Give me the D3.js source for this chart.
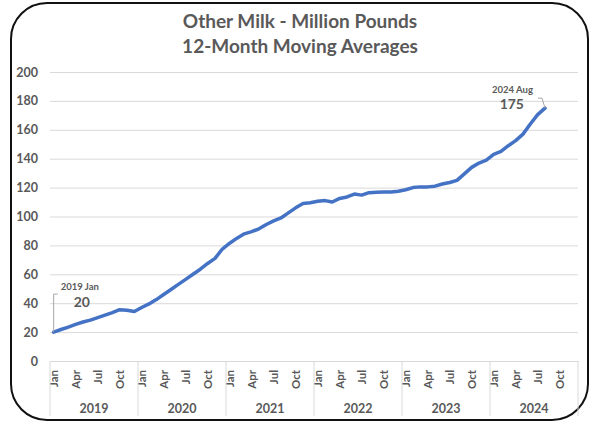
<!DOCTYPE html>
<html lang="en">
<head>
<meta charset="utf-8">
<script src="https://d3js.org/d3.v7.min.js"></script>
<style>
  body { margin: 0; background: #fff; }
  svg text { font-family: Lato, "Open Sans", sans-serif; font-weight: 700; fill: #595959; }
</style>
</head>
<body>
<svg id="chart" width="600" height="426"></svg>
<script>
// data (million pounds, 12-month moving average)
const years = ["2019", "2020", "2021", "2022", "2023", "2024"];
const monthNames = ["Jan","Feb","Mar","Apr","May","Jun","Jul","Aug","Sep","Oct","Nov","Dec"];
const values = [
  20, 21.8, 23.5, 25.3, 27, 28.3, 30, 31.8, 33.5, 35.5, 35.1, 34.2,      // 2019
  37, 39.5, 42.5, 46, 49.5, 53, 56.5, 60, 63.5, 67.5, 71, 77.5,         // 2020
  81.5, 85, 88, 89.5, 91.5, 94.5, 97, 99, 102.5, 106, 109, 109.5,       // 2021
  110.5, 111, 110, 112.5, 113.5, 115.5, 114.8, 116.5, 116.8, 117, 117, 117.5, // 2022
  118.5, 120, 120.5, 120.5, 121, 122.5, 123.5, 125, 129.5, 134, 137, 139,     // 2023
  143, 145, 149, 152.5, 157, 164, 170.5, 175                             // 2024 (to Aug)
];
const yTicks = [0, 20, 40, 60, 80, 100, 120, 140, 160, 180, 200];
const monthTickLabels = ["Jan", "Apr", "Jul", "Oct"];

const svg = d3.select("#chart");
const plotL = 50, plotR = 578, plotT = 72, plotB = 361;

// every month slot on the axis
const slots = [];
years.forEach(yr => monthNames.forEach(m => slots.push(yr + "-" + m)));
const points = values.map((v, i) => ({ key: slots[i], value: v }));

const x = d3.scaleBand().domain(slots).range([plotL, plotR]);
const y = d3.scaleLinear().domain([0, 200]).range([plotB, plotT]);
const cx = k => x(k) + x.bandwidth() / 2;

// frame
svg.append("rect")
  .attr("x", 11).attr("y", 3).attr("width", 577).attr("height", 417)
  .attr("rx", 36).attr("fill", "#fff")
  .attr("stroke", "#111").attr("stroke-width", 2);

// title
svg.append("text").attr("x", 300).attr("y", 28).attr("text-anchor", "middle")
  .style("font-size", "19px").text("Other Milk - Million Pounds");
svg.append("text").attr("x", 300).attr("y", 53).attr("text-anchor", "middle")
  .style("font-size", "19px").text("12-Month Moving Averages");

// gridlines + y labels
const yAxis = d3.axisLeft(y).tickValues(yTicks).tickSize(-(plotR - plotL)).tickPadding(12);
const yg = svg.append("g").attr("transform", `translate(${plotL},0)`).call(yAxis);
yg.select(".domain").remove();
yg.selectAll(".tick line").attr("stroke", "#d9d9d9").attr("stroke-width", 1);
yg.selectAll(".tick text").style("font-size", "12.5px").attr("fill", "#595959");

// category axis (months)
const xAxis = d3.axisBottom(x)
  .tickValues(slots.filter(s => monthTickLabels.includes(s.split("-")[1])))
  .tickFormat(s => s.split("-")[1])
  .tickSize(0);
const xg = svg.append("g").attr("transform", `translate(0,${plotB})`).call(xAxis);
xg.select(".domain").attr("stroke", "#d9d9d9");
xg.selectAll(".tick text")
  .style("font-size", "11.5px").attr("fill", "#595959")
  .attr("transform", "rotate(-90)")
  .attr("text-anchor", "end").attr("dy", "0.35em")
  .attr("x", -9).attr("y", 0);

// year dividers and labels
const yearEdges = years.map(yr => x(yr + "-Jan")).concat([plotR]);
svg.append("g").selectAll("line").data(yearEdges).join("line")
  .attr("x1", d => d).attr("x2", d => d)
  .attr("y1", plotB).attr("y2", 416)
  .attr("stroke", "#d9d9d9");
svg.append("g").selectAll("text").data(years).join("text")
  .attr("x", d => x(d + "-Jan") + 6 * x.bandwidth())
  .attr("y", 413).attr("text-anchor", "middle")
  .style("font-size", "12.5px").text(d => d);

// line
const line = d3.line().x(d => cx(d.key)).y(d => y(d.value));
svg.append("path").datum(points)
  .attr("d", line).attr("fill", "none")
  .attr("stroke", "#4472C4").attr("stroke-width", 3.5)
  .attr("stroke-linejoin", "round").attr("stroke-linecap", "round");

// data callouts
const first = points[0], last = points[points.length - 1];
const fx = cx(first.key), fy = y(first.value);
svg.append("path")
  .attr("d", `M${fx},${fy} V${fy - 38} H${fx + 4}`)
  .attr("fill", "none").attr("stroke", "#a6a6a6").attr("stroke-width", 1);
svg.append("text").attr("x", fx + 7).attr("y", fy - 42)
  .style("font-size", "9.5px").text("2019 Jan");
svg.append("text").attr("x", fx + 20).attr("y", fy - 25)
  .style("font-size", "14px").text(first.value);

const lx = cx(last.key), ly = y(last.value);
svg.append("path")
  .attr("d", `M${lx},${ly} L${lx - 3},${ly - 10} H${lx - 7}`)
  .attr("fill", "none").attr("stroke", "#a6a6a6").attr("stroke-width", 1);
svg.append("text").attr("x", lx - 12).attr("y", ly - 15).attr("text-anchor", "end")
  .style("font-size", "9.5px").text("2024 Aug");
svg.append("text").attr("x", lx - 21).attr("y", ly + 1).attr("text-anchor", "end")
  .style("font-size", "14px").text(last.value);
</script>
</body>
</html>
